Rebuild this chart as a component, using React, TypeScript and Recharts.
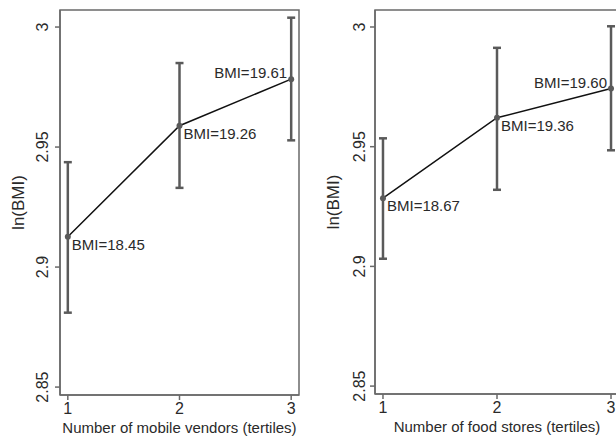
import React from 'react';
import { LineChart, Line, XAxis, YAxis, ErrorBar, ReferenceArea } from 'recharts';

// Tertile categories (shared by both panels)
const tertiles = [1, 2, 3];

// Left panel: mobile vendors
const mobileLnBmi = [2.9126, 2.9589, 2.9783];
const mobileLower = [2.881, 2.933, 2.9528];
const mobileUpper = [2.9437, 2.985, 3.0039];
const mobileBmi = ['18.45', '19.26', '19.61'];

// Right panel: food stores
const storesLnBmi = [2.9285, 2.9621, 2.9743];
const storesLower = [2.9032, 2.932, 2.9485];
const storesUpper = [2.9535, 2.9913, 3.0003];
const storesBmi = ['18.67', '19.36', '19.60'];

// Axis ticks and domains
const yTicks = [2.85, 2.9, 2.95, 3];
const xDomain: [number, number] = [0.93, 3.07];
const yDomain: [number, number] = [2.8467, 3.0071];

const FONT = '"Liberation Sans", Arial, Helvetica, sans-serif';
const AXIS = '#6a6a6a';
const TEXT = '#2a2a2a';
const BAR = '#5a5a5a';

interface Row {
  x: number;
  y: number;
  err: [number, number];
  bmi: string;
}

const buildRows = (vals: number[], lo: number[], hi: number[], bmi: string[]): Row[] =>
  tertiles.map((t, i) => ({
    x: t,
    y: vals[i],
    err: [vals[i] - lo[i], hi[i] - vals[i]],
    bmi: bmi[i],
  }));

const YTick = (props: any) => {
  const { x, y, payload } = props;
  return (
    <g transform={`translate(${x},${y})`}>
      <text transform="rotate(-90)" textAnchor="middle" fontSize={16} fill={TEXT} fontFamily={FONT}>
        {payload.value}
      </text>
    </g>
  );
};

// point marker plus its "BMI=" note; the last point gets the note above-left
const makeDot = (count: number) => (props: any) => {
  const { cx, cy, index, payload } = props;
  const last = index === count - 1;
  return (
    <g key={`dot-${index}`}>
      <circle cx={cx} cy={cy} r={3} fill={BAR} />
      <text
        x={last ? cx - 4 : cx + 4}
        y={last ? cy - 1 : cy + 13}
        textAnchor={last ? 'end' : 'start'}
        fontSize={15}
        fill={TEXT}
        fontFamily={FONT}
      >
        {`BMI=${payload.bmi}`}
      </text>
    </g>
  );
};

interface PanelProps {
  rows: Row[];
  xLabel: string;
  width: number;
  yAxisWidth: number;
  rightMargin: number;
  xAxisHeight: number;
  tickMargin: number;
  yLabelX: number;
}

const Panel: React.FC<PanelProps> = ({ rows, xLabel, width, yAxisWidth, rightMargin, xAxisHeight, tickMargin, yLabelX }) => (
  <LineChart
    width={width}
    height={438}
    data={rows}
    margin={{ top: 10, right: rightMargin, bottom: 0, left: 0 }}
  >
    <ReferenceArea
      x1={xDomain[0]}
      x2={xDomain[1]}
      y1={yDomain[0]}
      y2={yDomain[1]}
      fill="none"
      stroke={AXIS}
      strokeWidth={1.5}
    />
    <XAxis
      dataKey="x"
      type="number"
      domain={xDomain}
      ticks={tertiles}
      allowDataOverflow
      height={xAxisHeight}
      tickSize={5}
      tickMargin={3}
      stroke={AXIS}
      strokeWidth={1.5}
      tick={{ fontSize: 16, fill: TEXT, fontFamily: FONT }}
      label={{
        content: (p: any) => {
          const vb = p.viewBox;
          return (
            <text
              x={vb.x + vb.width / 2}
              y={vb.y + 38}
              textAnchor="middle"
              fontSize={15}
              fill={TEXT}
              fontFamily={FONT}
            >
              {xLabel}
            </text>
          );
        },
      }}
    />
    <YAxis
      type="number"
      domain={yDomain}
      ticks={yTicks}
      allowDataOverflow
      width={yAxisWidth}
      tickSize={5}
      tickMargin={tickMargin}
      stroke={AXIS}
      strokeWidth={1.5}
      tick={<YTick />}
      label={{
        content: (p: any) => {
          const vb = p.viewBox;
          const cy = vb.y + vb.height / 2;
          return (
            <text
              transform={`translate(${vb.x + yLabelX},${cy}) rotate(-90)`}
              textAnchor="middle"
              fontSize={17}
              fill={TEXT}
              fontFamily={FONT}
            >
              ln(BMI)
            </text>
          );
        },
      }}
    />
    <Line
      dataKey="y"
      stroke="#111"
      strokeWidth={1.5}
      dot={makeDot(rows.length)}
      activeDot={false}
      isAnimationActive={false}
    >
      <ErrorBar dataKey="err" direction="y" width={4} stroke={BAR} strokeWidth={2.5} />
    </Line>
  </LineChart>
);

const App: React.FC = () => {
  const left = buildRows(mobileLnBmi, mobileLower, mobileUpper, mobileBmi);
  const right = buildRows(storesLnBmi, storesLower, storesUpper, storesBmi);
  return (
    <div
      style={{
        position: 'absolute',
        left: 0,
        top: 0,
        width: 616,
        height: 438,
        overflow: 'hidden',
        background: '#fff',
      }}
    >
      <div style={{ position: 'absolute', left: 0, top: 0 }}>
        <Panel
          rows={left}
          xLabel="Number of mobile vendors (tertiles)"
          width={310}
          yAxisWidth={60}
          rightMargin={11}
          xAxisHeight={43}
          tickMargin={7}
          yLabelX={24}
        />
      </div>
      {/* right panel runs past the page edge, as in the source figure */}
      <div style={{ position: 'absolute', left: 310, top: 0 }}>
        <Panel
          rows={right}
          xLabel="Number of food stores (tertiles)"
          width={316}
          yAxisWidth={65}
          rightMargin={7}
          xAxisHeight={44}
          tickMargin={5}
          yLabelX={29}
        />
      </div>
    </div>
  );
};

export default App;
